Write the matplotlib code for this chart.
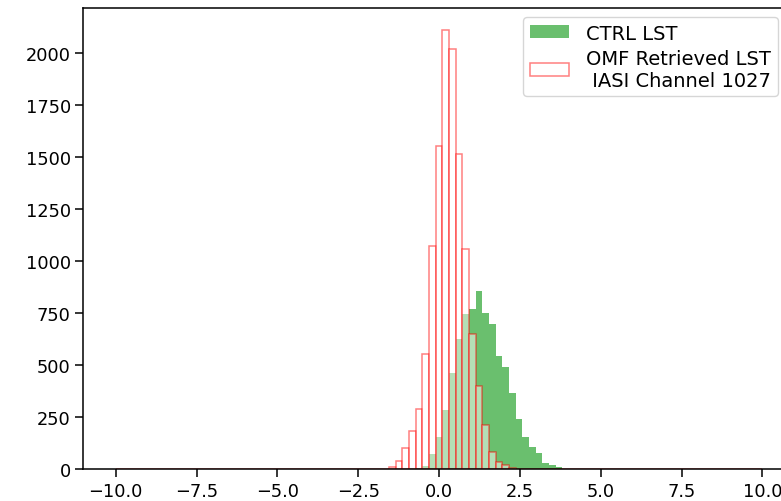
import numpy as np
import matplotlib
matplotlib.use("Agg")
from matplotlib import pyplot as plt

# histogram bins: 97 equal bins over -10..10
bin_edges = np.linspace(-10, 10, 98)

# counts, starting at the given bin index
ctrl_first_bin = 44
ctrl_counts = [1, 3, 16, 70, 153, 285, 460, 628, 745, 772, 857, 750, 700,
               545, 492, 364, 240, 152, 104, 77, 29, 19, 8]

omf_first_bin = 41
omf_counts = [10, 37, 99, 182, 290, 555, 1074, 1554, 2112, 2022, 1516,
              1061, 652, 400, 210, 82, 34, 18, 5]

ctrl_label = "CTRL LST"
omf_label = "OMF Retrieved LST\n IASI Channel 1027"


def full_weights(first, counts):
    w = np.zeros(len(bin_edges) - 1)
    w[first:first + len(counts)] = counts
    return w


centers = 0.5 * (bin_edges[:-1] + bin_edges[1:])

plt.rcParams['font.size'] = 12.8
plt.rcParams['axes.linewidth'] = 1.1
plt.rcParams['xtick.major.size'] = 5.5
plt.rcParams['ytick.major.size'] = 5.5
plt.rcParams['xtick.major.width'] = 1.1
plt.rcParams['ytick.major.width'] = 1.1

fig = plt.figure(figsize=(7.81, 5.02), dpi=100)
ax = fig.add_axes([0.1067, 0.0637, 0.911, 0.918])

ax.hist(centers, bins=bin_edges, weights=full_weights(ctrl_first_bin, ctrl_counts),
        color='#6abf6e', label=ctrl_label)
ax.hist(centers, bins=bin_edges, weights=full_weights(omf_first_bin, omf_counts),
        facecolor='white', edgecolor='red', linewidth=1.1, alpha=0.5, label=omf_label)

ax.set_yticks([0, 250, 500, 750, 1000, 1250, 1500, 1750, 2000])
ax.legend(loc='upper right', bbox_to_anchor=(0.976, 0.981), borderaxespad=0,
          fontsize=14, labelspacing=0.3, borderpad=0.35, handleheight=0.65,
          handletextpad=0.9)

fig.savefig("out.png", dpi=100)
